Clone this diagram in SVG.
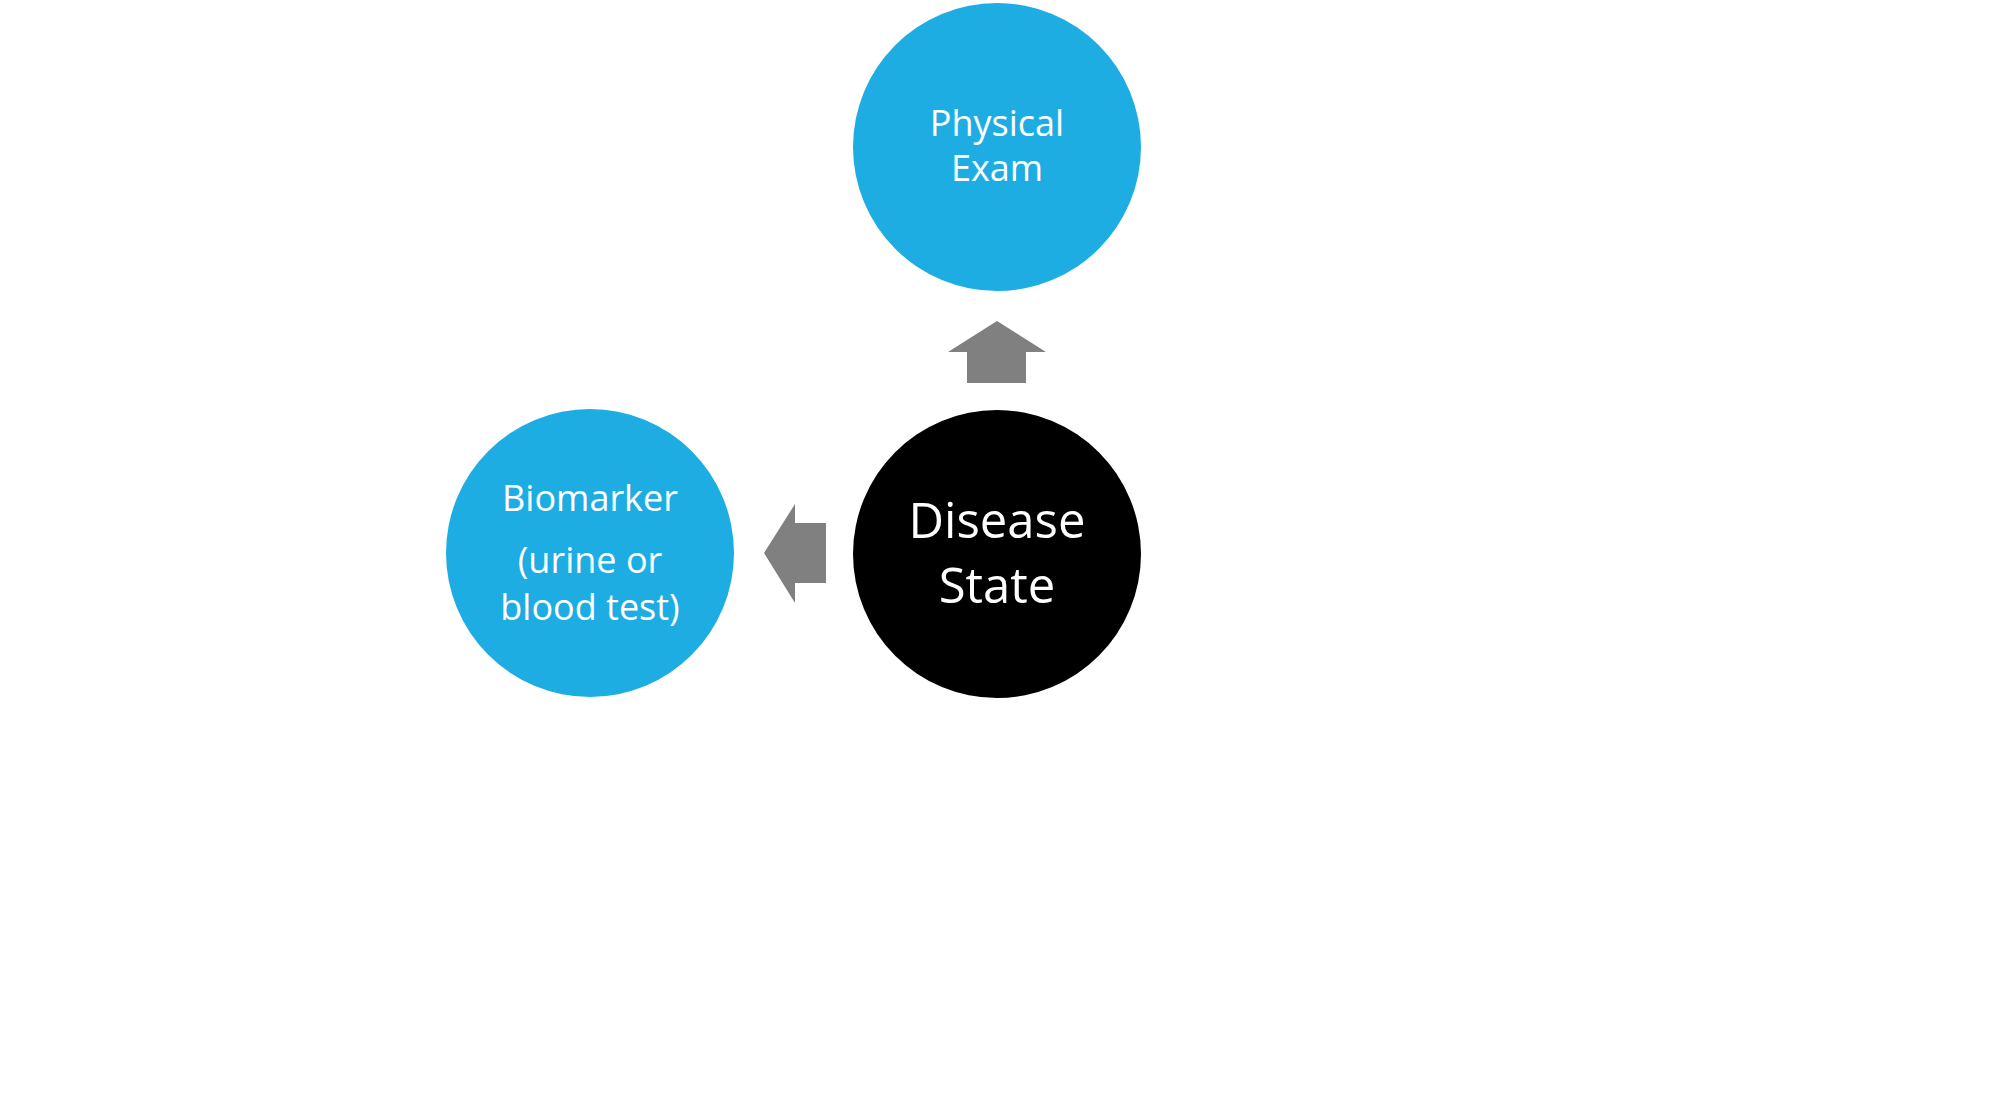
<svg xmlns="http://www.w3.org/2000/svg" width="1993" height="1108" viewBox="0 0 1993 1108">
<style>
.blue{fill:#1EADE3}
.dark{fill:#000000}
.lbl{fill:#ffffff;font-family:"Open Sans","Noto Sans","Liberation Sans",sans-serif;text-anchor:middle}
.s{font-size:36px}
.l{font-size:49px}
.arr{fill:#808080}
</style>
<rect width="1993" height="1108" fill="#ffffff"/>
<g id="connectors">
<polygon class="arr" points="997,321 1046,352 1026,352 1026,383 967,383 967,352 948,352"/>
<polygon class="arr" points="764,553 795,504 795,523 826,523 826,583 795,583 795,603"/>
</g>
<g id="physical-exam">
<circle class="blue" cx="997" cy="147" r="144"/>
<text class="lbl s" x="997" y="136">Physical</text>
<text class="lbl s" x="997" y="181">Exam</text>
</g>
<g id="biomarker">
<circle class="blue" cx="590" cy="553" r="144"/>
<text class="lbl s" x="590" y="511">Biomarker</text>
<text class="lbl s" x="590" y="573">(urine or</text>
<text class="lbl s" x="590" y="620">blood test)</text>
</g>
<g id="disease-state">
<circle class="dark" cx="997" cy="554" r="144"/>
<text class="lbl l" x="997" y="538">Disease</text>
<text class="lbl l" x="997" y="603">State</text>
</g>
</svg>
